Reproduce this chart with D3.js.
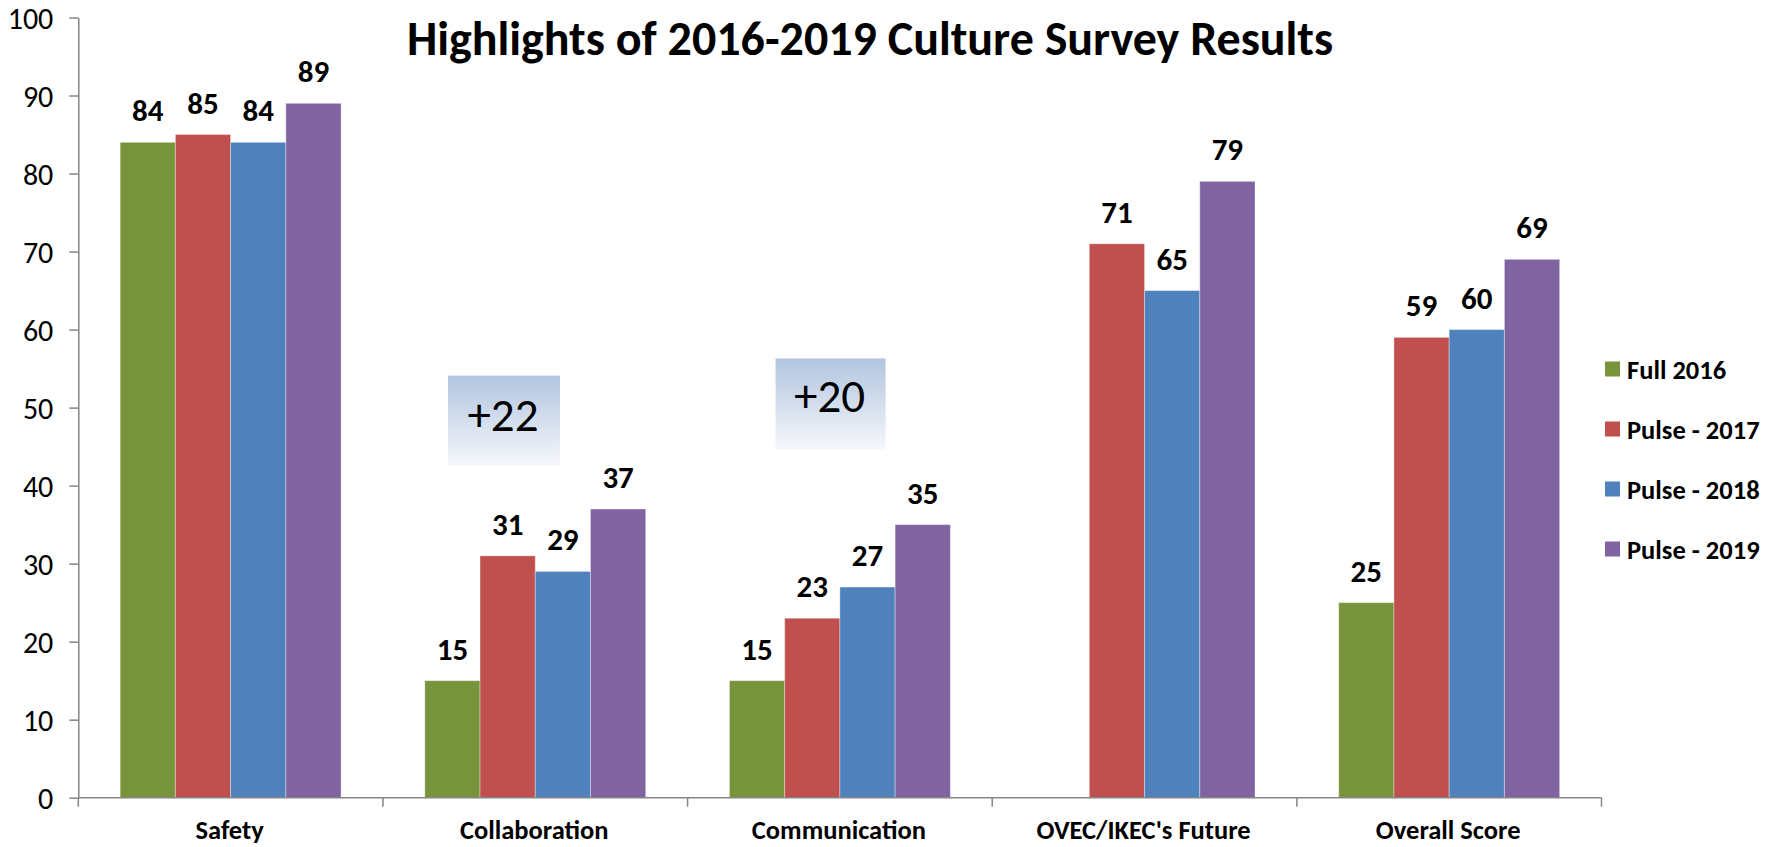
<!DOCTYPE html>
<html>
<head>
<meta charset="utf-8">
<script src="https://cdn.jsdelivr.net/npm/d3@7"></script>
<style>
  html, body { margin: 0; padding: 0; background: #fff; }
  svg { display: block; }
  text { font-family: Carlito, Calibri, Lato, sans-serif; fill: #000; }
</style>
</head>
<body>
<svg id="chart" width="1782" height="847"></svg>
<script>
// ---- data ----
const title = "Highlights of 2016-2019 Culture Survey Results";
const categories = ["Safety", "Collaboration", "Communication", "OVEC/IKEC's Future", "Overall Score"];
const seriesNames = ["Full 2016", "Pulse - 2017", "Pulse - 2018", "Pulse - 2019"];
const full2016  = [84, 15, 15, null, 25];
const pulse2017 = [85, 31, 23, 71, 59];
const pulse2018 = [84, 29, 27, 65, 60];
const pulse2019 = [89, 37, 35, 79, 69];
const yTicks = [0, 10, 20, 30, 40, 50, 60, 70, 80, 90, 100];
const annotationLabels = ["+22", "+20"];
const annotationCategories = ["Collaboration", "Communication"];

// ---- styling / layout ----
const colors = ["#77933c", "#c0504d", "#4f81bd", "#8064a2"];
const plotLeft = 78.3, plotRight = 1601.5, plotTop = 17.5, plotBottom = 797.7;

const svg = d3.select("#chart");
const seriesValues = [full2016, pulse2017, pulse2018, pulse2019];

const x0 = d3.scaleBand().domain(categories).range([plotLeft, plotRight]).padding(0);
const x1 = d3.scaleBand().domain(seriesNames).range([0, x0.bandwidth()])
  .paddingInner(0).paddingOuter(0.758);
const y = d3.scaleLinear().domain([0, 100]).range([plotBottom, plotTop]);

// gradient for annotation boxes
const defs = svg.append("defs");
const grad = defs.append("linearGradient").attr("id", "boxGrad")
  .attr("x1", 0).attr("y1", 0).attr("x2", 0).attr("y2", 1);
grad.append("stop").attr("offset", "0%").attr("stop-color", "#b2c5df");
grad.append("stop").attr("offset", "100%").attr("stop-color", "#f5f7fb");

// bars
const groups = svg.append("g").selectAll("g")
  .data(seriesNames).join("g")
  .attr("fill", (d, i) => colors[i]);

groups.each(function(name, si) {
  const data = categories.map((c, ci) => ({ c, v: seriesValues[si][ci] }))
    .filter(d => d.v !== null);
  const g = d3.select(this);
  g.selectAll("rect").data(data).join("rect")
    .attr("x", d => x0(d.c) + x1(name))
    .attr("y", d => y(d.v))
    .attr("width", x1.bandwidth())
    .attr("height", d => y(0) - y(d.v))
    .attr("stroke", "rgba(255,255,255,0.35)")
    .attr("stroke-width", 1);
  g.selectAll("text").data(data).join("text")
    .attr("x", d => x0(d.c) + x1(name) + x1.bandwidth() / 2)
    .attr("y", d => y(d.v) - 21)
    .attr("text-anchor", "middle")
    .attr("font-weight", "bold")
    .attr("font-size", 31)
    .attr("fill", "#000")
    .text(d => d.v);
});

// y axis
const yAxis = d3.axisLeft(y).tickValues(yTicks).tickSize(9).tickPadding(16).tickSizeOuter(0);
const gy = svg.append("g").attr("transform", `translate(${plotLeft},0)`).call(yAxis);
gy.select(".domain").attr("stroke", "#868686").attr("stroke-width", 1.5);
gy.selectAll(".tick line").attr("stroke", "#868686").attr("stroke-width", 1.5);
gy.selectAll(".tick text").attr("font-size", 30).attr("fill", "#000")
  .attr("font-family", "Carlito, Calibri, Lato, sans-serif").attr("dy", "0.35em");

// x axis: baseline + boundary ticks
const gx = svg.append("g");
gx.append("line").attr("x1", plotLeft).attr("x2", plotRight).attr("y1", y(0)).attr("y2", y(0))
  .attr("stroke", "#868686").attr("stroke-width", 1.5);
const boundaries = categories.map(c => x0(c)).concat([x0(categories[categories.length - 1]) + x0.bandwidth()]);
gx.selectAll("line.b").data(boundaries).join("line").attr("class", "b")
  .attr("x1", d => d).attr("x2", d => d).attr("y1", y(0)).attr("y2", y(0) + 9)
  .attr("stroke", "#868686").attr("stroke-width", 1.5);
gx.selectAll("text").data(categories).join("text")
  .attr("x", d => x0(d) + x0.bandwidth() / 2 - 1)
  .attr("y", 839)
  .attr("text-anchor", "middle")
  .attr("font-weight", "bold")
  .attr("font-size", 26.5)
  .text(d => d);

// annotation boxes
const annLayout = [
  { dx: 65, w: 112, top: 54.1, bot: 42.5, ty: 431 },
  { dx: 88, w: 110, top: 56.3, bot: 44.6, ty: 412 }
];
annotationLabels.forEach((lab, i) => {
  const L = annLayout[i];
  const bx = x0(annotationCategories[i]) + L.dx;
  svg.append("rect").attr("x", bx).attr("y", y(L.top))
    .attr("width", L.w).attr("height", y(L.bot) - y(L.top))
    .attr("fill", "url(#boxGrad)");
  svg.append("text").attr("x", bx + L.w / 2 - 1).attr("y", L.ty)
    .attr("text-anchor", "middle").attr("font-size", 47)
    .text(lab);
});

// legend
const legend = svg.append("g").attr("transform", "translate(1605,369)");
const li = legend.selectAll("g").data(seriesNames).join("g")
  .attr("transform", (d, i) => `translate(0,${i * 60})`);
li.append("rect").attr("x", 0).attr("y", -7.5).attr("width", 15).attr("height", 15)
  .attr("fill", (d, i) => colors[i]);
li.append("text").attr("x", 22).attr("y", 0).attr("dy", "0.36em")
  .attr("font-weight", "bold").attr("font-size", 26.5).text(d => d);

// title
svg.append("text").attr("x", 870).attr("y", 55)
  .attr("text-anchor", "middle").attr("font-weight", "bold").attr("font-size", 48)
  .text(title);
</script>
</body>
</html>
